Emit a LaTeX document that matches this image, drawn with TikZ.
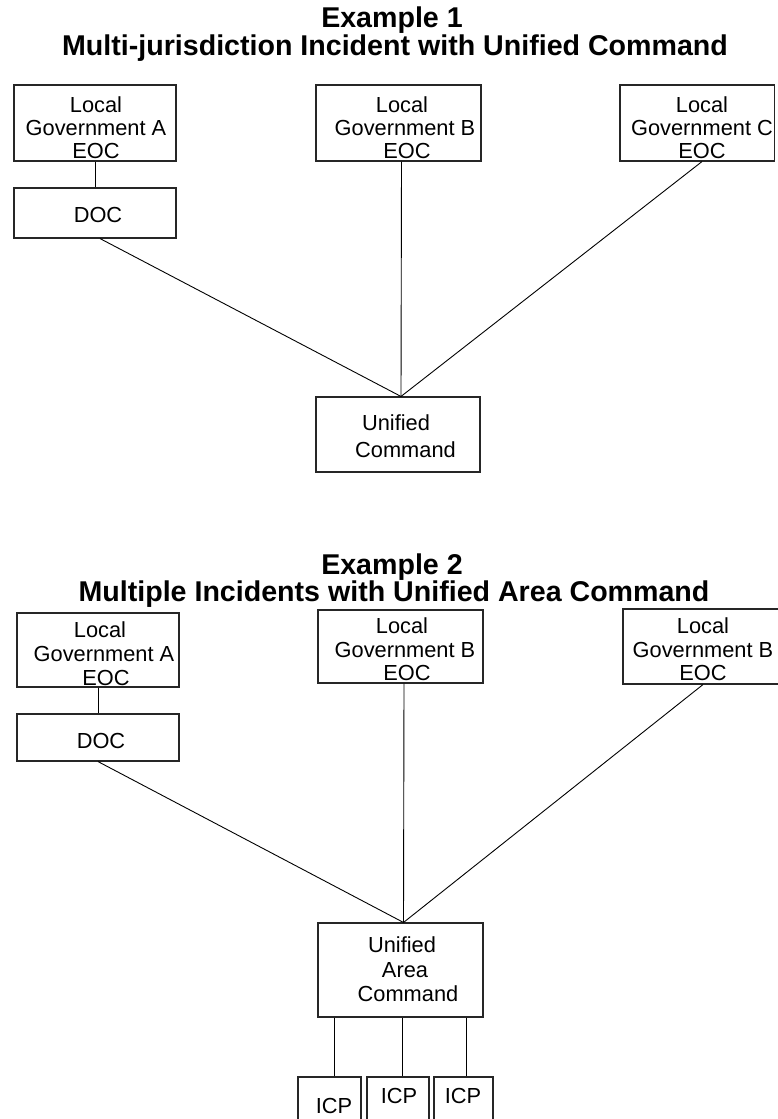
\documentclass[tikz,border=0pt]{standalone}
\usepackage{fontspec}
\setmainfont{Liberation Sans}
\begin{document}
\begin{tikzpicture}[x=1pt,y=-1pt,
  box/.style={draw=black!85, line width=1.1pt, rectangle, inner sep=0pt},
  lab/.style={font=\fontsize{21.8}{23}\selectfont, inner sep=0pt, anchor=base},
  ttl/.style={font=\fontsize{28.6}{30}\selectfont\bfseries, inner sep=0pt, anchor=base},
  link/.style={draw=black, line width=0.9pt}]
\useasboundingbox (0,0) rectangle (777,1119);

% ---------- Example 1 ----------
\node[ttl] (t1a) at (392,27) {Example 1};
\node[ttl] (t1b) at (395,55) {Multi-jurisdiction Incident with Unified Command};

\node[box, minimum width=162pt, minimum height=76pt] (a1) at (95,123) {};
\node[box, minimum width=162pt, minimum height=50pt] (doc1) at (95,213) {};
\node[box, minimum width=165pt, minimum height=76pt] (b1) at (398.5,123) {};
\node[box, minimum width=154.5pt, minimum height=76pt] (c1) at (697.25,123) {};
\node[box, minimum width=164pt, minimum height=75pt] (uc1) at (398,434.5) {};

\node[lab] (a1l1) at (96,112) {Local};
\node[lab] (a1l2) at (96,135) {Government A};
\node[lab] (a1l3) at (96,158) {EOC};
\node[lab] (doc1l) at (98,222) {DOC};
\node[lab] (b1l1) at (402,112) {Local};
\node[lab] (b1l2) at (405,135) {Government B};
\node[lab] (b1l3) at (407,158) {EOC};
\node[lab] (c1l1) at (702,112) {Local};
\node[lab] (c1l2) at (702,135) {Government C};
\node[lab] (c1l3) at (702,158) {EOC};
\node[lab] (uc1l1) at (396,430) {Unified};
\node[lab] (uc1l2) at (405.5,457) {Command};

\draw[link] (a1.south) -- (doc1.north);
\draw[link] ([xshift=5pt]doc1.south) -- ([xshift=3pt]uc1.north);
\draw[link] ([xshift=3pt]b1.south) -- ([xshift=3pt]uc1.north);
\draw[link] ([xshift=4.75pt]c1.south) -- ([xshift=3pt]uc1.north);

% ---------- Example 2 ----------
\node[ttl] (t2a) at (392,574) {Example 2};
\node[ttl] (t2b) at (394,601) {Multiple Incidents with Unified Area Command};

\node[box, minimum width=162pt, minimum height=74pt] (a2) at (98,650) {};
\node[box, minimum width=162pt, minimum height=47pt] (doc2) at (98,737.5) {};
\node[box, minimum width=165pt, minimum height=73pt] (b2) at (400.5,646.5) {};
\node[box, minimum width=160pt, minimum height=75pt] (c2) at (703,646.5) {};
\node[box, minimum width=165pt, minimum height=94pt] (uac) at (400.5,970) {};
\node[box, minimum width=63pt, minimum height=58pt] (icp1) at (329.5,1106) {};
\node[box, minimum width=62pt, minimum height=58pt] (icp2) at (398,1106) {};
\node[box, minimum width=59pt, minimum height=58pt] (icp3) at (463.5,1106) {};

\node[lab] (a2l1) at (100,637) {Local};
\node[lab] (a2l2) at (104,661) {Government A};
\node[lab] (a2l3) at (106,685) {EOC};
\node[lab] (doc2l) at (101,748) {DOC};
\node[lab] (b2l1) at (402,633) {Local};
\node[lab] (b2l2) at (405,657) {Government B};
\node[lab] (b2l3) at (407,680) {EOC};
\node[lab] (c2l1) at (703,633) {Local};
\node[lab] (c2l2) at (703,657) {Government B};
\node[lab] (c2l3) at (703,680) {EOC};
\node[lab] (uacl1) at (402,952) {Unified};
\node[lab] (uacl2) at (405,977) {Area};
\node[lab] (uacl3) at (408,1001) {Command};
\node[lab] (icp1l) at (334,1113) {ICP};
\node[lab] (icp2l) at (399,1103) {ICP};
\node[lab] (icp3l) at (463,1103) {ICP};

\draw[link] (a2.south) -- (doc2.north);
\draw[link] (doc2.south) -- ([xshift=3pt]uac.north);
\draw[link] ([xshift=3.5pt]b2.south) -- ([xshift=3pt]uac.north);
\draw[link] (c2.south) -- ([xshift=3pt]uac.north);
\draw[link] (uac.south -| icp1l.base) -- (icp1.north -| icp1l.base);
\draw[link] ([xshift=1.5pt]uac.south) -- ([xshift=4pt]icp2.north);
\draw[link] (uac.south -| icp3.north) ++(2.5,0) -- ([xshift=2.5pt]icp3.north);
\end{tikzpicture}
\end{document}
